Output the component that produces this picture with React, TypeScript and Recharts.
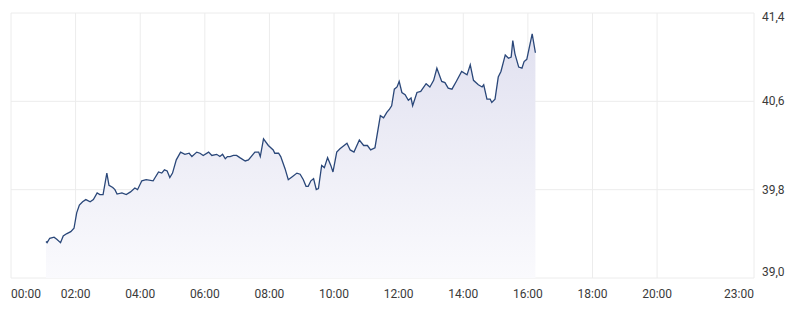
import React from "react";
import {
  ComposedChart,
  Area,
  XAxis,
  YAxis,
  CartesianGrid,
} from "recharts";

// intraday quotes
const times = [
  "01:05", "01:07", "01:12", "01:20", "01:25", "01:32", "01:37", "01:43", "01:51", "01:57",
  "02:02", "02:07", "02:13", "02:19", "02:27", "02:33", "02:40", "02:45", "02:51", "02:58",
  "03:02", "03:09", "03:13", "03:17", "03:26", "03:34", "03:42", "03:50", "03:55", "04:03",
  "04:11", "04:24", "04:34", "04:40", "04:45", "04:50", "04:55", "05:00", "05:07", "05:15",
  "05:23", "05:31", "05:36", "05:45", "05:51", "05:57", "06:07", "06:13", "06:22", "06:28",
  "06:33", "06:38", "06:42", "06:47", "06:53", "06:59", "07:05", "07:15", "07:21", "07:33",
  "07:40", "07:43", "07:49", "07:58", "08:07", "08:10", "08:17", "08:21", "08:29", "08:35",
  "08:43", "08:51", "08:57", "09:03", "09:08", "09:12", "09:17", "09:22", "09:27", "09:31",
  "09:37", "09:42", "09:48", "09:54", "09:58", "10:05", "10:11", "10:24", "10:30", "10:37",
  "10:47", "10:55", "11:02", "11:08", "11:16", "11:26", "11:32", "11:38", "11:43", "11:47",
  "11:52", "11:57", "12:01", "12:06", "12:12", "12:18", "12:23", "12:26", "12:34", "12:41",
  "12:51", "12:58", "13:05", "13:11", "13:20", "13:26", "13:32", "13:39", "13:47", "13:57",
  "14:07", "14:13", "14:19", "14:28", "14:35", "14:38", "14:44", "14:50", "14:53", "14:59",
  "15:05", "15:10", "15:18", "15:24", "15:29", "15:32", "15:36", "15:43", "15:49", "15:53",
  "15:58", "16:08", "16:14",
];

const prices = [
  39.33, 39.32, 39.36, 39.37, 39.35, 39.32, 39.38, 39.4, 39.42, 39.45,
  39.59, 39.66, 39.69, 39.71, 39.69, 39.71, 39.77, 39.755, 39.755, 39.95,
  39.84, 39.82, 39.8, 39.76, 39.77, 39.755, 39.78, 39.815, 39.8, 39.88,
  39.89, 39.88, 39.96, 39.95, 39.98, 39.97, 39.91, 39.95, 40.07, 40.14,
  40.12, 40.13, 40.1, 40.14, 40.13, 40.11, 40.14, 40.11, 40.12, 40.1,
  40.12, 40.08, 40.1, 40.1, 40.11, 40.11, 40.09, 40.06, 40.07, 40.14,
  40.14, 40.1, 40.26, 40.2, 40.16, 40.13, 40.13, 40.1, 39.99, 39.89,
  39.92, 39.95, 39.94, 39.89, 39.83, 39.83, 39.88, 39.9, 39.8, 39.81,
  40.02, 40.0, 40.09, 40.02, 39.96, 40.14, 40.17, 40.22, 40.16, 40.14,
  40.25, 40.2, 40.2, 40.16, 40.18, 40.47, 40.45, 40.5, 40.53, 40.56,
  40.71, 40.73, 40.78, 40.68, 40.66, 40.61, 40.63, 40.56, 40.68, 40.69,
  40.76, 40.73, 40.79, 40.9, 40.78, 40.77, 40.72, 40.71, 40.78, 40.87,
  40.84, 40.93, 40.79, 40.75, 40.73, 40.75, 40.62, 40.62, 40.59, 40.62,
  40.82, 40.87, 41.02, 40.99, 41.0, 41.15, 41.03, 40.91, 40.9, 40.96,
  40.98, 41.21, 41.04,
];

const xTickLabels = ["00:00", "02:00", "04:00", "06:00", "08:00", "10:00", "12:00", "14:00", "16:00", "18:00", "20:00", "23:00"];
const yTicks = [39.0, 39.8, 40.6, 41.4];

const toMinutes = (s: string) => {
  const [h, m] = s.split(":").map(Number);
  return h * 60 + m;
};

const data = times.map((t, i) => ({ t: toMinutes(t), price: prices[i] }));
const xTicks = xTickLabels.map(toMinutes);

const FONT = "Roboto, 'Noto Sans', sans-serif";

const XTick = (props: any) => {
  const { x, y, payload, index } = props;
  const last = index === xTicks.length - 1;
  const anchor = index === 0 ? "start" : last ? "end" : "middle";
  const label = xTickLabels[xTicks.indexOf(payload.value)];
  return (
    <text x={x} y={y} dy="0.71em" textAnchor={anchor} fill="#3a3a3a" fontSize={12} fontFamily={FONT}>
      {label}
    </text>
  );
};

const YTick = (props: any) => {
  const { x, y, payload } = props;
  let dy = 4;
  if (payload.value === 41.4) dy = 8;
  if (payload.value === 39.0) dy = -2;
  return (
    <text x={x} y={y} dy={dy} textAnchor="start" fill="#3a3a3a" fontSize={12} fontFamily={FONT}>
      {payload.value.toFixed(1).replace(".", ",")}
    </text>
  );
};

export default function App() {
  return (
    <div style={{ position: "fixed", left: 0, top: 0, background: "#fff" }}>
      <ComposedChart
        width={795}
        height={315}
        data={data}
        margin={{ top: 13, right: 0, bottom: 7, left: 11 }}
      >
        <defs>
          <linearGradient id="areaFill" x1="0" y1="0" x2="0" y2="1">
            <stop offset="0%" stopColor="#e1e1f0" />
            <stop offset="100%" stopColor="#fafafd" />
          </linearGradient>
        </defs>
        <CartesianGrid stroke="#ececec" />
        <XAxis
          dataKey="t"
          type="number"
          domain={[0, 1380]}
          ticks={xTicks}
          axisLine={false}
          tickLine={false}
          tickMargin={5}
          height={30}
          tick={<XTick />}
          interval={0}
        />
        <YAxis
          orientation="right"
          domain={[39.0, 41.4]}
          ticks={yTicks}
          axisLine={false}
          tickLine={false}
          width={41}
          tick={<YTick />}
          interval={0}
        />
        <Area
          type="linear"
          dataKey="price"
          stroke="#2a4779"
          strokeWidth={1.3}
          fill="url(#areaFill)"
          fillOpacity={1}
          baseValue={39.0}
          dot={false}
          activeDot={false}
          isAnimationActive={false}
        />
      </ComposedChart>
    </div>
  );
}
